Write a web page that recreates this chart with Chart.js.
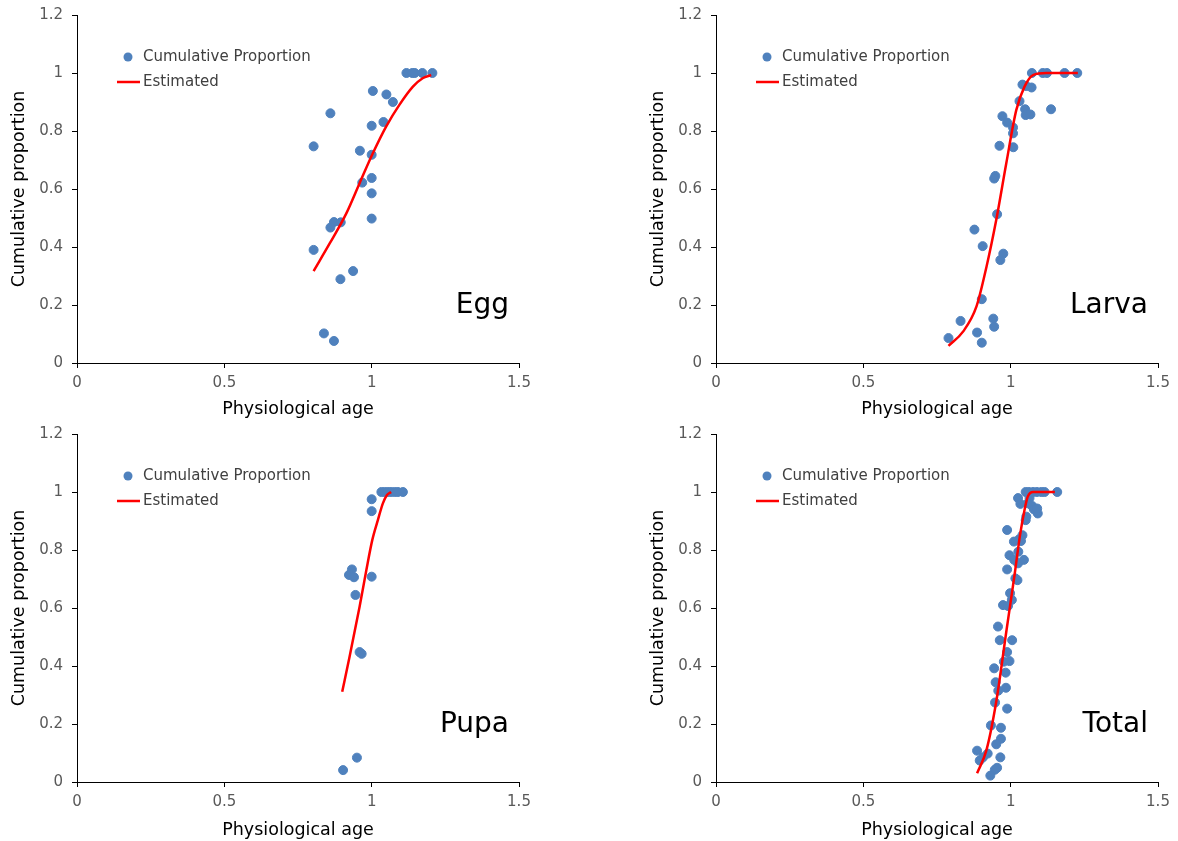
<!DOCTYPE html>
<html>
<head>
<meta charset="utf-8">
<script src="https://cdn.jsdelivr.net/npm/chart.js@4.4.1/dist/chart.umd.min.js"></script>
<style>
  body { margin: 0; background: #fff; }
  .panel { position: absolute; }
</style>
</head>
<body>
<canvas id="egg" class="panel" width="589" height="420" style="left:0;top:0"></canvas>
<canvas id="larva" class="panel" width="589" height="420" style="left:589px;top:0"></canvas>
<canvas id="pupa" class="panel" width="589" height="421" style="left:0;top:420px"></canvas>
<canvas id="total" class="panel" width="589" height="421" style="left:589px;top:420px"></canvas>
<script>
// tick labels
var xTickLabels = ['0', '0.5', '1', '1.5'];
var yTickLabels = ['0', '0.2', '0.4', '0.6', '0.8', '1', '1.2'];

// Egg
var eggX = [1.118, 1.138, 1.146, 1.172, 1.206, 1.004, 1.05, 1.072, 0.86, 1.0, 1.04, 0.803, 0.96, 1.0, 1.0, 0.968, 1.0, 1.0, 0.872, 0.895, 0.86, 0.803, 0.937, 0.894, 0.838, 0.872];
var eggY = [1.0, 1.0, 1.0, 1.0, 1.0, 0.938, 0.926, 0.9, 0.861, 0.818, 0.831, 0.747, 0.732, 0.718, 0.638, 0.622, 0.585, 0.498, 0.486, 0.485, 0.467, 0.39, 0.317, 0.289, 0.102, 0.076];
var eggFitX = [0.803, 0.858, 0.914, 0.959, 1.004, 1.049, 1.094, 1.14, 1.173, 1.202];
var eggFitY = [0.317, 0.413, 0.516, 0.62, 0.723, 0.815, 0.89, 0.953, 0.982, 0.993];

// Larva
var larvaX = [1.072, 1.109, 1.123, 1.183, 1.226, 1.04, 1.053, 1.071, 1.03, 1.049, 1.137, 1.051, 1.067, 0.972, 0.988, 1.008, 1.008, 0.962, 1.009, 0.948, 0.944, 0.954, 0.877, 0.905, 0.975, 0.965, 0.902, 0.83, 0.941, 0.944, 0.886, 0.789, 0.902];
var larvaY = [1.0, 1.0, 1.0, 1.0, 1.0, 0.96, 0.955, 0.95, 0.903, 0.875, 0.875, 0.855, 0.857, 0.851, 0.829, 0.812, 0.792, 0.749, 0.744, 0.645, 0.636, 0.513, 0.46, 0.403, 0.377, 0.355, 0.22, 0.145, 0.153, 0.125, 0.105, 0.086, 0.07];
var larvaFitX = [0.789, 0.839, 0.884, 0.918, 0.951, 0.985, 1.019, 1.047, 1.076, 1.121, 1.228];
var larvaFitY = [0.059, 0.109, 0.195, 0.332, 0.493, 0.688, 0.872, 0.953, 0.993, 1.0, 1.0];

// Pupa
var pupaX = [1.033, 1.044, 1.055, 1.066, 1.078, 1.089, 1.106, 1.0, 1.0, 0.933, 0.923, 0.94, 1.0, 0.945, 0.959, 0.966, 0.95, 0.903];
var pupaY = [1.0, 1.0, 1.0, 1.0, 1.0, 1.0, 1.0, 0.975, 0.934, 0.733, 0.714, 0.706, 0.708, 0.645, 0.448, 0.442, 0.084, 0.041];
var pupaFitX = [0.9, 0.925, 0.959, 0.982, 1.002, 1.021, 1.038, 1.052, 1.066];
var pupaFitY = [0.311, 0.432, 0.604, 0.731, 0.834, 0.903, 0.961, 0.99, 1.0];

// Total
var totalX = [1.051, 1.062, 1.076, 1.089, 1.104, 1.115, 1.158, 1.025, 1.064, 1.033, 1.058, 1.073, 1.079, 1.092, 1.09, 1.053, 1.051, 0.988, 1.04, 1.029, 1.011, 1.035, 1.026, 0.996, 1.012, 1.025, 1.045, 0.988, 1.016, 1.023, 0.998, 1.004, 0.974, 0.991, 0.957, 0.963, 1.005, 0.988, 0.977, 0.996, 0.944, 0.983, 0.949, 0.958, 0.984, 0.947, 0.988, 0.933, 0.967, 0.967, 0.951, 0.886, 0.922, 0.906, 0.895, 0.965, 0.954, 0.946, 0.931];
var totalY = [1.0, 1.0, 1.0, 1.0, 1.0, 1.0, 1.0, 0.979, 0.979, 0.959, 0.961, 0.952, 0.94, 0.926, 0.943, 0.915, 0.903, 0.869, 0.851, 0.837, 0.829, 0.831, 0.794, 0.782, 0.766, 0.754, 0.766, 0.733, 0.702, 0.696, 0.651, 0.628, 0.61, 0.607, 0.536, 0.489, 0.489, 0.448, 0.415, 0.417, 0.392, 0.377, 0.344, 0.315, 0.325, 0.274, 0.253, 0.195, 0.187, 0.149, 0.13, 0.108, 0.098, 0.085, 0.074, 0.085, 0.049, 0.042, 0.022];
var totalFitX = [0.886, 0.918, 0.952, 0.986, 1.014, 1.031, 1.047, 1.058, 1.076, 1.15];
var totalFitY = [0.03, 0.111, 0.283, 0.524, 0.72, 0.846, 0.938, 0.984, 1.0, 1.0];

var FONT = "'DejaVu Sans', sans-serif";

function pts(xs, ys) {
    return xs.map(function(x, i){ return {x: x, y: ys[i]}; });
}

// legend + stage label drawn inside the plot area
var panelText = {
    id: 'panelText',
    afterDraw: function(chart, args, opts) {
        var ctx = chart.ctx, a = chart.chartArea;
        ctx.save();
        ctx.font = '15px ' + FONT;
        ctx.textBaseline = 'middle';
        ctx.fillStyle = '#4F81BD';
        ctx.beginPath();
        ctx.arc(a.left + 51, a.top + 42, 4.5, 0, Math.PI * 2);
        ctx.fill();
        ctx.strokeStyle = '#FF0000';
        ctx.lineWidth = 2.5;
        ctx.beginPath();
        ctx.moveTo(a.left + 40, a.top + 67);
        ctx.lineTo(a.left + 63, a.top + 67);
        ctx.stroke();
        ctx.fillStyle = '#404040';
        ctx.fillText('Cumulative Proportion', a.left + 66, a.top + 42);
        ctx.fillText('Estimated', a.left + 66, a.top + 67);
        ctx.fillStyle = '#000';
        ctx.font = '28px ' + FONT;
        ctx.textAlign = 'right';
        ctx.textBaseline = 'alphabetic';
        ctx.fillText(opts.label, a.right - 10, a.bottom - 50);
        ctx.restore();
    }
};

function makePanel(id, label, xs, ys, fx, fy, padLeft, padTop, xAxisH) {
    var ctx = document.getElementById(id).getContext('2d');
    return new Chart(ctx, {
        type: 'scatter',
        data: {
            datasets: [{
                label: 'Estimated',
                type: 'line',
                data: pts(fx, fy),
                borderColor: '#FF0000',
                borderWidth: 2.5,
                pointRadius: 0,
                cubicInterpolationMode: 'monotone',
                fill: false,
                order: 0
            }, {
                label: 'Cumulative Proportion',
                data: pts(xs, ys),
                backgroundColor: '#4F81BD',
                borderColor: '#4F81BD',
                pointRadius: 4.5,
                order: 1
            }]
        },
        options: {
            responsive: false,
            animation: false,
            layout: { padding: { left: padLeft, top: padTop, right: 70 - padLeft, bottom: 0 } },
            plugins: {
                legend: { display: false },
                tooltip: { enabled: false },
                panelText: { label: label }
            },
            scales: {
                x: {
                    type: 'linear', min: 0, max: 1.5,
                    afterFit: function(s){ s.height = xAxisH; s.paddingLeft = 0; s.paddingRight = 0; },
                    ticks: {
                        stepSize: 0.5, color: '#595959', padding: 6,
                        font: { family: FONT, size: 15 },
                        callback: function(v, i){ return xTickLabels[i]; }
                    },
                    grid: { drawOnChartArea: false, tickLength: 5, color: '#000' },
                    border: { color: '#000', width: 1 },
                    title: { display: true, text: 'Physiological age', color: '#000',
                             font: { family: FONT, size: 17.5 }, padding: { top: 0, bottom: 0 } }
                },
                y: {
                    min: 0, max: 1.2,
                    afterFit: function(s){ s.width = 77; s.paddingTop = 0; s.paddingBottom = 0; },
                    ticks: {
                        stepSize: 0.2, color: '#595959', padding: 9,
                        font: { family: FONT, size: 15 },
                        callback: function(v, i){ return yTickLabels[i]; }
                    },
                    grid: { drawOnChartArea: false, tickLength: 5, color: '#000' },
                    border: { color: '#000', width: 1 },
                    title: { display: true, text: 'Cumulative proportion', color: '#000',
                             font: { family: FONT, size: 17.5 }, padding: { top: 9, bottom: 0 } }
                }
            }
        },
        plugins: [panelText]
    });
}

makePanel('egg', 'Egg', eggX, eggY, eggFitX, eggFitY, 0, 15, 57);
makePanel('larva', 'Larva', larvaX, larvaY, larvaFitX, larvaFitY, 50, 15, 57);
makePanel('pupa', 'Pupa', pupaX, pupaY, pupaFitX, pupaFitY, 0, 14, 59);
makePanel('total', 'Total', totalX, totalY, totalFitX, totalFitY, 50, 14, 59);
</script>
</body>
</html>
